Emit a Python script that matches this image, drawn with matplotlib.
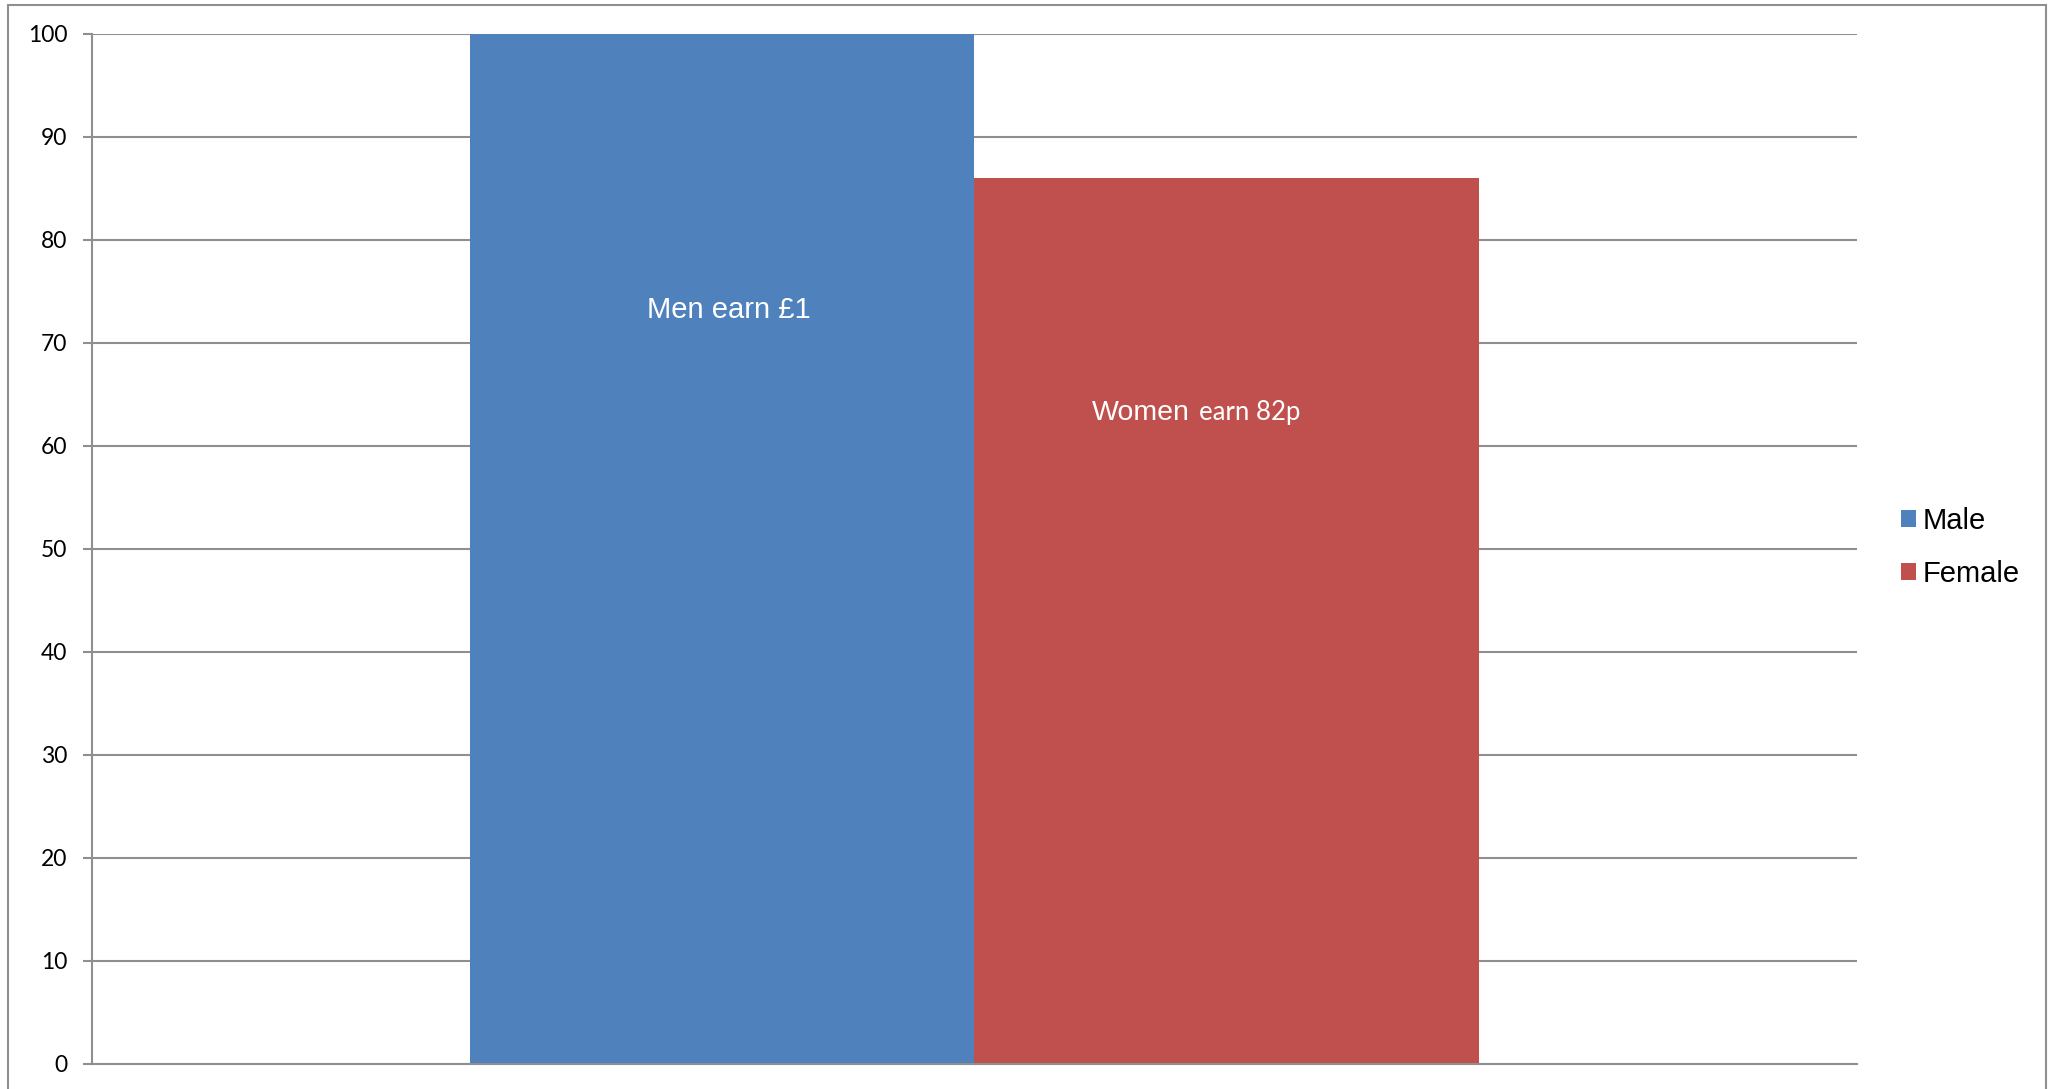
#!/usr/bin/env python3
"""
Pay gap bar chart: what men and women earn per pound.
"""

import matplotlib.pyplot as plt
from matplotlib.patches import Rectangle

series = ["Male", "Female"]
values = [100, 86]
colors = ["#4F81BD", "#C0504D"]
yticks = [0, 10, 20, 30, 40, 50, 60, 70, 80, 90, 100]

GRID = "#8f8f8f"
DPI = 100


def main():
    fig = plt.figure(figsize=(20.51, 10.89), dpi=DPI)
    ax = fig.add_axes([0.04466, 0.02296, 0.9054 - 0.04466, 0.9688 - 0.02296])

    # one category, two series, excel style 150% gap
    width = 1 / 3.5
    offsets = [-width / 2, width / 2]
    for name, val, col, off in zip(series, values, colors, offsets):
        ax.bar(off, val, width=width, color=col, label=name, zorder=3)

    ax.set_xlim(-0.5, 0.5)
    ax.set_ylim(0, 100)
    ax.set_yticks(yticks)
    ax.set_yticklabels([str(t) for t in yticks], family="Lato", fontsize=16.5)
    ax.set_xticks([])
    ax.yaxis.grid(True, color=GRID, linewidth=1.5, zorder=0)
    ax.tick_params(axis="y", direction="out", length=6.5, width=1.5,
                   color=GRID, pad=11)

    for side in ["top", "right"]:
        ax.spines[side].set_visible(False)
    for side in ["left", "bottom"]:
        ax.spines[side].set_color(GRID)
        ax.spines[side].set_linewidth(1.5)
        ax.spines[side].set_zorder(4)

    # labels inside the bars
    ax.annotate("Men earn \u00a31", xy=(offsets[0], 73.2), xytext=(5, 0),
                textcoords="offset points", color="white", fontsize=21,
                family="Liberation Sans", ha="center", va="center", zorder=5)
    ax.annotate("Women", xy=(offsets[1], 62.55), xytext=(-26.5, 0),
                textcoords="offset points", color="white", fontsize=20.5,
                family="Liberation Sans", ha="right", va="baseline", zorder=5)
    ax.annotate("earn 82p", xy=(offsets[1], 62.55), xytext=(-19.5, 0),
                textcoords="offset points", color="white", fontsize=18.5,
                family="Lato", ha="left", va="baseline", zorder=5)

    fig.legend(loc="center left", bbox_to_anchor=(0.9269, 0.4975),
               frameon=False, prop={"family": "Liberation Sans", "size": 21},
               handlelength=0.5, handleheight=0.5, handletextpad=0.25,
               labelspacing=0.86, borderpad=0, borderaxespad=0)

    # outer chart border
    fig.patches.append(Rectangle((8 / 2051, -0.02), (2046 - 8) / 2051,
                                 1.02 - 5 / 1089, transform=fig.transFigure,
                                 fill=False, edgecolor=GRID, linewidth=1.5))

    fig.savefig("out.png", dpi=DPI)


if __name__ == '__main__':
    main()
